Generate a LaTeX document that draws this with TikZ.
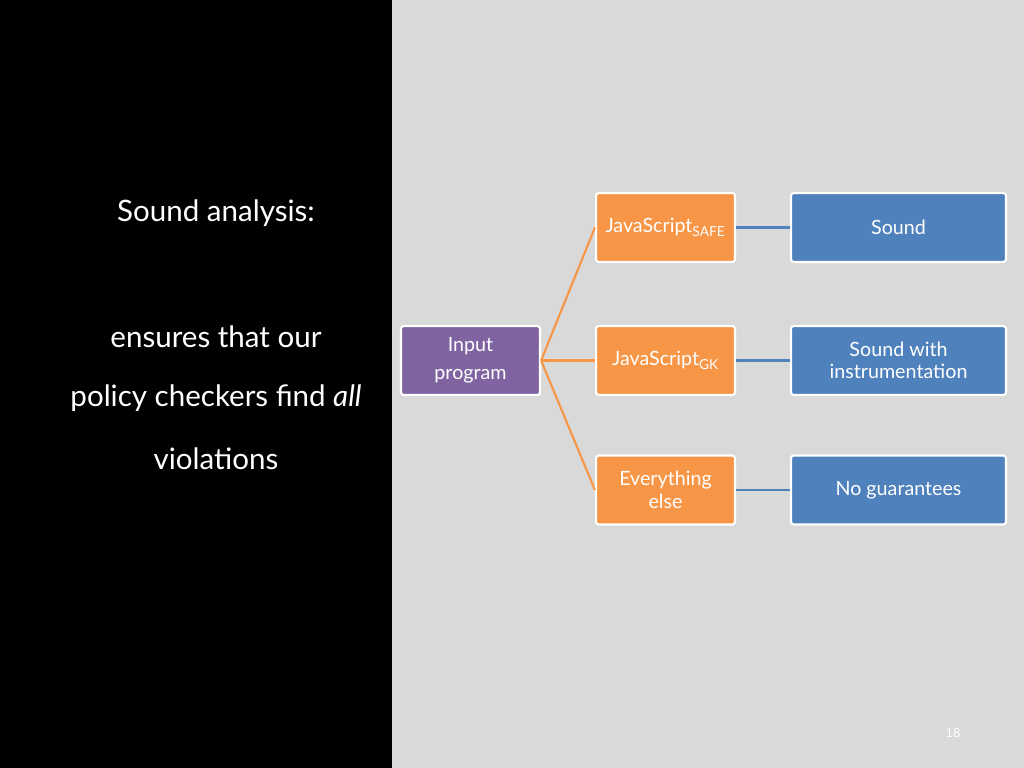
\documentclass[tikz,border=0pt]{standalone}
\usepackage{fontspec}
\setmainfont{Lato}
\definecolor{slidegrey}{HTML}{D9D9D9}
\definecolor{inpurple}{HTML}{8064A2}
\definecolor{jsorange}{HTML}{F79646}
\definecolor{resblue}{HTML}{4F81BD}
\begin{document}
\begin{tikzpicture}[x=0.025cm,y=-0.025cm,
        box/.style={draw=white,line width=1.5pt,rounded corners=2pt,text=white,
          minimum height=1.725cm,align=center,font=\fontsize{14}{16}\selectfont},
        inbox/.style={box,fill=inpurple,minimum width=3.475cm},
        jsbox/.style={box,fill=jsorange,minimum width=3.475cm},
        resbox/.style={box,fill=resblue,minimum width=5.375cm},
        lefttext/.style={text=white,font=\fontsize{21}{24}\selectfont}]

  % background
  \fill[black] (0,0) rectangle (392,768);
  \fill[slidegrey] (392,0) rectangle (1024,768);

  % left column
  \node[lefttext] (Title) at (216,213) {Sound analysis:};
  \node[lefttext] (Line One) at (216,337) {ensures that our};
  \node[lefttext] (Line Two) at (216,398) {policy checkers find \textit{all}};
  \node[lefttext] (Line Three) at (216,459) {violations};

  % tree
  \node[inbox] (Input) at (470.5,360.5) {Input\\[4pt]program};
  \node[jsbox] (Safe) at (665.5,227.5) {JavaScript\textsubscript{SAFE}};
  \node[jsbox] (GK) at (665.5,360.5) {JavaScript\textsubscript{GK}};
  \node[jsbox] (Else) at (665.5,490) {Everything\\else};
  \node[resbox] (Sound) at (898.5,227.5) {Sound};
  \node[resbox] (Instr) at (898.5,360.5) {Sound with\\instrumentation};
  \node[resbox] (None) at (898.5,490) {No guarantees};

  \foreach \t in {Safe,GK,Else}
    \draw[jsorange,line width=1.5pt] (Input.east) -- (\t.west);
  \draw[resblue,line width=2pt] (Safe) -- (Sound)
        (GK) -- (Instr)
        (Else) -- (None);

  \node[text=white,font=\small] (Page) at (953,733) {18};
\end{tikzpicture}
\end{document}
